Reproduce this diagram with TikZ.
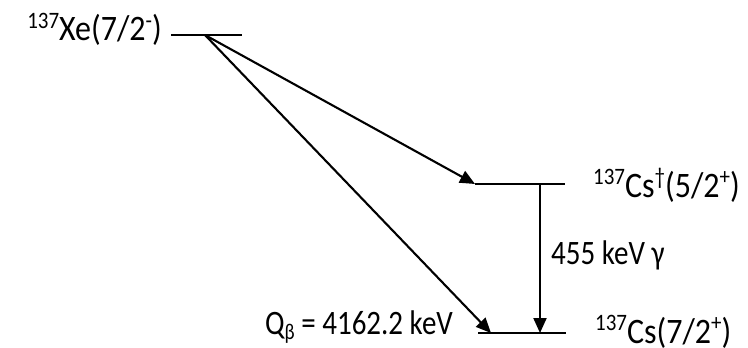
\documentclass[tikz,border=0pt]{standalone}
\usepackage{fontspec}
\setmainfont{Carlito}
\usetikzlibrary{arrows.meta}
\newcommand\supx[1]{\raisebox{0.34em}{\fontsize{21}{23}\selectfont #1}}
\newcommand\subx[1]{\raisebox{-0.16em}{\fontsize{19}{20}\selectfont #1}}
\begin{document}
\begin{tikzpicture}[x=1pt,y=-1pt,
  level/.style={line width=1.3pt},
  trans/.style={line width=2.1pt,-{Triangle[length=15pt,width=13pt]}},
  lbl/.style={inner sep=0pt,transform shape,yscale=1.12,font=\fontsize{32}{36}\selectfont},
  sml/.style={inner sep=0pt,transform shape,yscale=1.18,font=\fontsize{29}{33}\selectfont}]
\useasboundingbox (0,0) rectangle (748,348);
% levels
\coordinate (xeL) at (171,35);
\coordinate (xeR) at (242,35);
\coordinate (xeS) at (205,35);
\coordinate (csmL) at (475,184);
\coordinate (csmR) at (565,184);
\coordinate (csmS) at (540,184);
\coordinate (csgL) at (478,333);
\coordinate (csgR) at (566,333);
\coordinate (csgA) at (491,333);
\coordinate (csgB) at (540,333);
\draw[level] (xeL) -- (xeR);
\draw[level] (csmL) -- (csmR);
\draw[level] (csgL) -- (csgR);
% transitions
\draw[trans] (xeS) -- (csmL);
\draw[trans] (xeS) -- (csgA);
\draw[trans] (csmS) -- (csgB);
% labels
\node[lbl,anchor=base east] (xe) at (162,41) {\supx{137}Xe(7/2\supx{-})};
\node[lbl,anchor=base west] (csm) at (593,197) {\supx{137}Cs\supx{†}(5/2\supx{+})};
\node[lbl,anchor=base west] (csg) at (595,343) {\supx{137}Cs(7/2\supx{+})};
\node[sml,anchor=base west] (gam) at (551,264) {455 keV γ};
\node[sml,anchor=base west] (q) at (265,334) {Q\subx{β} = 4162.2 keV};
\end{tikzpicture}
\end{document}
